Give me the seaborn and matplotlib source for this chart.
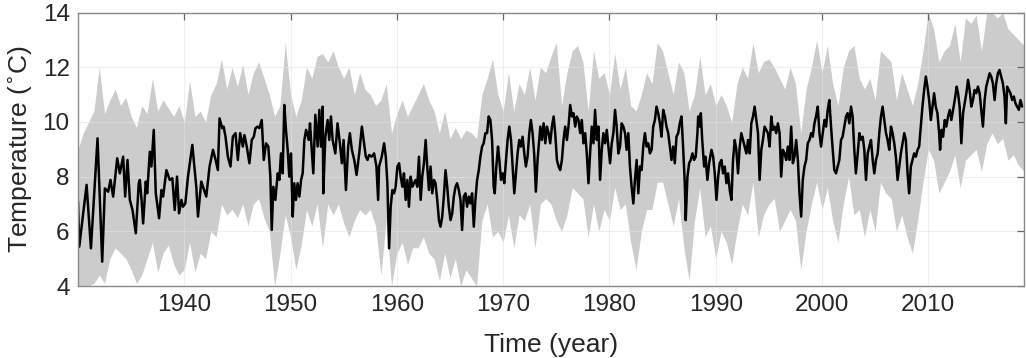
import numpy as np
import pandas as pd
import matplotlib
matplotlib.use("Agg")
import matplotlib.pyplot as plt
import seaborn as sns

# ---- black line: temperature readings (decimal year, deg C) ----
line_year = [
    1930.00, 1930.12, 1930.81, 1931.22, 1931.84, 1932.28, 1932.53, 1932.84, 1933.06, 1933.31,
    1933.69, 1933.94, 1934.25, 1934.44, 1934.66, 1934.88, 1935.13, 1935.44, 1935.72,
    1935.82, 1935.98, 1936.13, 1936.38, 1936.51, 1936.76, 1936.91, 1937.13, 1937.32, 1937.63,
    1937.85, 1938.01, 1938.32, 1938.63, 1938.88, 1939.10, 1939.32, 1939.51, 1939.73, 1939.88,
    1940.10, 1940.35, 1940.76, 1941.13, 1941.29, 1941.60, 1941.91, 1942.07, 1942.38, 1942.70,
    1942.95, 1943.16,
    1943.32, 1943.57, 1943.70, 1943.88, 1944.10, 1944.35, 1944.57, 1944.82, 1945.04, 1945.26,
    1945.51, 1945.66, 1945.88, 1946.13, 1946.35, 1946.54, 1946.70, 1946.91, 1947.07, 1947.29,
    1947.48, 1947.70, 1947.91, 1948.10, 1948.23, 1948.38, 1948.57, 1948.79, 1948.95, 1949.10,
    1949.26, 1949.41, 1949.57, 1949.73, 1949.88, 1950.04, 1950.20, 1950.35, 1950.51, 1950.66,
    1950.83, 1950.99, 1951.14, 1951.30, 1951.46, 1951.71, 1951.83, 1952.02, 1952.14, 1952.33,
    1952.55, 1952.71, 1952.86, 1953.02, 1953.08, 1953.27, 1953.49, 1953.64, 1953.80, 1953.96,
    1954.21, 1954.42, 1954.64, 1954.83, 1954.99, 1955.21, 1955.42, 1955.58, 1955.77, 1955.99,
    1956.21, 1956.46, 1956.71, 1956.92, 1957.08, 1957.24, 1957.39, 1957.64, 1957.86, 1958.08,
    1958.24,
    1958.33, 1958.58, 1958.80, 1958.96, 1959.11, 1959.27, 1959.42, 1959.58, 1959.74, 1959.89,
    1960.05, 1960.21, 1960.36, 1960.52, 1960.67, 1960.83, 1960.99, 1961.14, 1961.30, 1961.46,
    1961.61, 1961.77, 1961.92, 1962.08, 1962.24, 1962.39, 1962.55, 1962.71, 1962.86, 1963.02,
    1963.17, 1963.33, 1963.49, 1963.64, 1963.80, 1963.96, 1964.11, 1964.27, 1964.42, 1964.58,
    1964.74, 1964.89, 1965.05, 1965.21, 1965.36, 1965.52, 1965.67,
    1965.83, 1965.99, 1966.14, 1966.30, 1966.46, 1966.61, 1966.77, 1966.92, 1967.08, 1967.24,
    1967.39, 1967.55, 1967.71, 1967.86, 1968.02, 1968.17, 1968.33, 1968.49, 1968.64, 1968.80,
    1968.96, 1969.11, 1969.21, 1969.36, 1969.52, 1969.64, 1969.80, 1969.96, 1970.11, 1970.27,
    1970.42, 1970.58, 1970.74, 1970.89, 1971.05, 1971.21, 1971.36, 1971.52, 1971.67, 1971.83,
    1971.99, 1972.14, 1972.30, 1972.46, 1972.61, 1972.77, 1972.92, 1973.08, 1973.24,
    1973.34, 1973.50, 1973.65, 1973.81, 1973.97, 1974.12, 1974.28, 1974.43, 1974.59, 1974.75,
    1974.90, 1975.06, 1975.22, 1975.37, 1975.53, 1975.68, 1975.84, 1976.00, 1976.15, 1976.31,
    1976.47, 1976.62, 1976.78, 1976.93, 1977.09, 1977.25, 1977.40, 1977.56, 1977.72, 1977.87,
    1978.03, 1978.18, 1978.34, 1978.50, 1978.65, 1978.81, 1978.97, 1979.12, 1979.28, 1979.43,
    1979.59, 1979.75, 1979.90, 1980.06, 1980.22, 1980.37, 1980.53, 1980.68,
    1980.84, 1981.00, 1981.15, 1981.31, 1981.47, 1981.62, 1981.78, 1981.93, 1982.09, 1982.25,
    1982.40, 1982.56, 1982.72, 1982.87, 1983.03, 1983.18, 1983.34, 1983.50, 1983.65, 1983.81,
    1983.97, 1984.12, 1984.28, 1984.43, 1984.59, 1984.75, 1984.90, 1985.06, 1985.22, 1985.37,
    1985.53, 1985.68, 1985.84, 1986.00, 1986.15, 1986.31, 1986.47, 1986.62, 1986.78, 1986.93,
    1987.09, 1987.18, 1987.34, 1987.50, 1987.65, 1987.81, 1987.97, 1988.12, 1988.28,
    1988.35, 1988.51, 1988.60, 1988.73, 1988.91, 1989.04, 1989.22, 1989.38, 1989.60, 1989.76,
    1989.91, 1990.07, 1990.23, 1990.38, 1990.54, 1990.69, 1990.85, 1991.01, 1991.16, 1991.32,
    1991.48, 1991.63, 1991.79, 1991.94, 1992.10, 1992.26, 1992.41, 1992.57, 1992.73, 1992.88,
    1993.04, 1993.20, 1993.35, 1993.51, 1993.66, 1993.82, 1993.98, 1994.13, 1994.29, 1994.44,
    1994.60, 1994.76, 1994.91, 1995.07, 1995.23, 1995.38, 1995.54, 1995.69,
    1995.85, 1996.01, 1996.16, 1996.32, 1996.48, 1996.63, 1996.79, 1996.94, 1997.10, 1997.26,
    1997.41, 1997.57, 1997.73, 1997.88, 1998.04, 1998.19, 1998.35, 1998.51, 1998.66, 1998.82,
    1998.98, 1999.13, 1999.29, 1999.44, 1999.60, 1999.76, 1999.91, 2000.07, 2000.23, 2000.38,
    2000.54, 2000.69, 2000.85, 2001.01, 2001.16, 2001.32, 2001.48, 2001.63, 2001.79, 2001.94,
    2002.10, 2002.26, 2002.41, 2002.57, 2002.73, 2002.88, 2003.04, 2003.19,
    2003.36, 2003.52, 2003.67, 2003.83, 2003.98, 2004.14, 2004.30, 2004.45, 2004.61, 2004.77,
    2004.92, 2005.08, 2005.24, 2005.39, 2005.55, 2005.70, 2005.86, 2006.02, 2006.17, 2006.33,
    2006.49, 2006.64, 2006.80, 2006.95, 2007.11, 2007.27, 2007.42, 2007.58, 2007.74, 2007.89,
    2008.05, 2008.20, 2008.36, 2008.52, 2008.67, 2008.83, 2008.99, 2009.14, 2009.30, 2009.45,
    2009.61, 2009.77, 2009.92, 2010.08, 2010.24, 2010.39, 2010.55, 2010.70,
    2010.86, 2011.02, 2011.11, 2011.24, 2011.39, 2011.55, 2011.70, 2011.86, 2012.02, 2012.17,
    2012.33, 2012.49, 2012.67, 2012.80, 2012.95, 2013.11, 2013.27, 2013.42, 2013.58, 2013.74,
    2013.89, 2014.05, 2014.20, 2014.36, 2014.52, 2014.67, 2014.83, 2014.99, 2015.14, 2015.30,
    2015.45, 2015.61, 2015.77, 2015.92, 2016.08, 2016.24, 2016.39, 2016.55, 2016.70, 2016.86,
    2017.02, 2017.17, 2017.30, 2017.42, 2017.58, 2017.73, 2017.89, 2018.05, 2018.20, 2018.36,
    2018.52, 2018.67, 2018.83,
]
line_temp = [
    7.09, 5.44, 7.70, 5.38, 9.40, 4.89, 7.57, 7.45, 7.88, 7.27,
    8.67, 8.12, 8.73, 7.27, 8.61, 7.15, 6.78, 5.93, 7.76,
    7.88, 7.15, 6.29, 7.82, 7.39, 8.91, 8.37, 9.71, 7.39, 6.48,
    7.51, 7.27, 8.24, 7.88, 7.94, 6.78, 8.00, 6.66, 7.15, 6.90,
    7.02, 8.00, 9.16, 7.63, 6.54, 7.82, 7.45, 7.27, 8.37, 8.98,
    8.61, 8.24,
    10.13, 9.77, 9.83, 9.46, 8.73, 8.37, 9.46, 9.59, 8.61, 9.59,
    9.10, 9.52, 9.10, 8.49, 9.34, 9.46, 9.77, 9.83, 9.77, 10.07,
    8.61, 9.22, 9.10, 8.00, 6.05, 7.63, 7.15, 8.12, 7.88, 8.85,
    8.12, 10.62, 9.71, 8.98, 8.00, 8.85, 6.54, 7.76, 7.15, 7.76,
    7.27, 7.88, 8.12, 9.34, 9.71, 9.34, 9.95, 8.85, 8.12, 10.26,
    9.10, 10.44, 9.10, 10.56, 7.39, 9.46, 10.07, 9.34, 10.20, 9.34,
    8.85, 9.95, 9.22, 8.49, 9.34, 7.51, 9.10, 9.59, 8.98, 8.61,
    8.06, 8.85, 9.83, 9.22, 8.73, 8.61, 8.79, 8.73, 8.85, 8.37,
    7.15,
    8.37, 8.73, 9.22, 8.73, 7.76, 5.38, 6.90, 7.51, 7.39, 7.63,
    8.37, 8.49, 8.00, 7.63, 8.12, 7.15, 7.88, 6.90, 8.00, 7.63,
    7.76, 7.88, 7.63, 8.73, 7.15, 8.00, 8.49, 9.34, 8.37, 7.51,
    8.37, 7.39, 7.88, 7.76, 7.15, 6.41, 6.17, 6.54, 7.27, 8.24,
    7.63, 6.90, 6.41, 6.66, 7.27, 7.63, 7.76,
    7.51, 7.15, 6.05, 7.27, 7.39, 6.90, 7.27, 7.02, 7.39, 6.17,
    7.15, 7.88, 8.24, 8.73, 9.10, 9.22, 9.59, 9.59, 10.20, 10.07,
    9.34, 7.63, 7.39, 8.37, 9.10, 8.61, 7.88, 8.12, 7.76, 8.61,
    9.34, 9.83, 9.34, 8.37, 7.39, 8.12, 8.85, 9.34, 9.10, 9.46,
    8.85, 8.37, 8.73, 9.59, 10.07, 9.59, 8.85, 7.45, 8.61,
    9.10, 9.83, 9.34, 9.95, 9.22, 9.83, 9.59, 9.22, 9.83, 10.20,
    9.59, 8.61, 8.37, 8.24, 8.61, 9.34, 9.83, 9.34, 9.83, 10.62,
    10.20, 10.32, 9.83, 10.20, 10.07, 9.59, 10.07, 9.22, 9.59, 8.85,
    7.76, 8.85, 9.83, 9.22, 10.44, 9.34, 9.83, 7.88, 8.98, 9.59,
    9.22, 9.71, 9.10, 8.49, 9.22, 9.59, 10.44, 9.83,
    8.85, 9.10, 9.95, 9.83, 9.59, 8.98, 9.59, 8.37, 7.63, 7.02,
    7.88, 8.61, 7.39, 8.37, 8.24, 9.10, 9.59, 9.10, 9.22, 8.85,
    8.98, 9.83, 10.07, 10.56, 10.32, 9.95, 9.46, 10.44, 10.20, 9.83,
    9.59, 9.10, 8.61, 9.10, 8.49, 9.46, 9.59, 9.95, 10.20, 9.10,
    7.76, 6.41, 8.00, 8.49, 8.61, 8.85, 8.61, 8.73, 9.59,
    10.20, 9.83, 10.32, 9.34, 8.37, 8.73, 7.88, 8.49, 8.98, 8.73,
    8.12, 7.15, 8.00, 8.49, 8.61, 8.12, 8.37, 7.76, 8.12, 7.51,
    7.15, 8.61, 9.34, 8.98, 8.12, 9.10, 9.59, 9.34, 9.10, 8.85,
    9.34, 8.85, 9.95, 10.20, 10.56, 10.07, 9.59, 7.88, 8.98, 9.34,
    9.83, 9.71, 9.59, 9.10, 10.20, 9.71, 9.83, 9.59,
    9.95, 9.59, 8.00, 8.98, 8.85, 8.61, 9.10, 8.61, 9.83, 8.49,
    8.73, 9.34, 8.61, 7.39, 6.54, 7.88, 8.37, 8.61, 9.22, 9.34,
    9.59, 9.46, 9.95, 10.20, 10.56, 9.59, 9.10, 9.59, 10.07, 9.83,
    10.44, 10.80, 9.83, 8.98, 8.24, 8.12, 8.37, 8.61, 9.34, 9.46,
    9.83, 10.20, 10.32, 9.95, 10.56, 10.20, 8.98, 8.12,
    8.85, 9.59, 9.34, 9.46, 8.98, 7.88, 8.85, 9.10, 9.34, 8.61,
    8.12, 8.61, 8.85, 9.59, 10.20, 10.56, 10.07, 9.59, 9.34, 8.98,
    9.83, 9.59, 9.22, 8.73, 7.88, 8.37, 8.85, 9.22, 9.59, 9.34,
    8.12, 7.39, 8.37, 8.61, 8.85, 8.73, 8.98, 9.10, 9.83, 10.56,
    11.17, 11.66, 11.29, 10.80, 10.07, 10.56, 11.05, 10.56,
    10.32, 9.59, 8.98, 9.71, 9.46, 10.07, 9.83, 10.20, 10.44, 10.07,
    10.44, 10.80, 11.29, 11.05, 10.56, 9.22, 10.32, 10.68, 11.05, 11.54,
    11.17, 10.56, 10.80, 11.17, 11.05, 11.29, 11.05, 10.44, 9.83, 10.80,
    11.29, 11.54, 11.78, 11.66, 11.41, 10.80, 11.41, 11.78, 11.90, 11.66,
    11.41, 10.93, 9.95, 11.29, 11.17, 11.05, 10.80, 10.93, 10.68, 10.56,
    10.44, 10.80, 10.56,
]

# ---- grey band: envelope, half-year readings 1930.0 .. 2019.0 ----
band_upper = [
    9.0, 9.6, 10.0, 10.4, 12.0, 10.3, 10.8, 11.2, 10.6, 10.9,   # 1930-1934.5
    10.2, 9.8, 10.6, 10.3, 11.6, 10.4, 10.8, 10.5, 10.2, 10.6,  # 1935-1939.5
    10.0, 11.5, 10.2, 10.4, 10.0, 11.0, 11.4, 12.3, 11.2, 12.0, # 1940-1944.5
    11.3, 12.1, 11.0, 11.8, 12.2, 11.6, 11.0, 10.2, 10.6, 12.9, # 1945-1949.5
    11.0, 10.2, 10.8, 12.0, 11.6, 12.4, 12.5, 12.2, 12.6, 12.0, # 1950-1954.5
    11.6, 12.0, 11.0, 11.8, 11.2, 11.0, 10.6, 10.8, 11.4, 9.6,  # 1955-1959.5
    10.3, 10.8, 10.2, 10.6, 11.0, 11.4, 10.8, 10.4, 9.6, 10.4,  # 1960-1964.5
    9.4, 9.8, 9.4, 9.7, 9.6, 9.4, 11.0, 11.6, 12.3, 11.0,       # 1965-1969.5
    10.4, 11.8, 10.4, 11.4, 11.0, 12.0, 10.8, 12.0, 11.8, 12.4, # 1970-1974.5
    12.9, 10.6, 11.8, 12.6, 12.8, 12.2, 10.4, 12.6, 11.6, 11.8, # 1975-1979.5
    11.0, 12.5, 11.2, 12.0, 10.6, 10.4, 11.0, 11.8, 11.4, 12.9, # 1980-1984.5
    12.6, 11.8, 11.0, 12.2, 11.8, 10.4, 11.0, 12.4, 11.0, 11.4, # 1985-1989.5
    10.6, 11.0, 10.6, 10.0, 11.4, 12.0, 11.6, 12.9, 11.8, 12.2, # 1990-1994.5
    12.3, 12.0, 11.6, 11.2, 12.0, 11.4, 9.6, 11.2, 12.0, 13.0,  # 1995-1999.5
    11.8, 12.8, 11.4, 10.6, 12.0, 12.6, 12.8, 11.6, 11.2, 11.6, # 2000-2004.5
    10.8, 12.6, 12.4, 12.2, 10.8, 11.8, 11.2, 10.6, 11.4, 12.6, # 2005-2009.5
    14.0, 13.4, 12.2, 12.6, 12.8, 13.6, 12.2, 13.8, 13.6, 13.9, # 2010-2014.5
    12.6, 14.0, 14.0, 13.8, 14.0, 13.4, 13.2, 13.0, 12.8,       # 2015-2019.0
]
band_lower = [
    4.0, 4.0, 4.0, 4.1, 4.4, 4.1, 5.0, 5.4, 5.2, 5.0,
    4.6, 4.1, 4.4, 5.0, 5.6, 4.5, 5.2, 5.5, 4.8, 4.4,
    4.6, 5.6, 4.5, 5.2, 5.0, 6.0, 5.8, 7.0, 6.6, 6.8,
    6.5, 7.0, 6.2, 7.0, 7.2, 6.5, 6.0, 4.0, 5.2, 6.6,
    5.8, 4.6, 5.5, 6.8, 6.2, 7.0, 5.4, 7.0, 6.6, 7.0,
    6.3, 5.8, 6.4, 6.8, 6.6, 6.8, 6.2, 4.4, 6.4, 4.0,
    5.2, 5.6, 4.8, 5.4, 5.4, 5.8, 5.2, 5.0, 4.2, 5.2,
    4.3, 5.0, 4.0, 4.6, 4.3, 4.0, 6.4, 7.0, 5.8, 6.0,
    5.6, 6.6, 5.4, 6.6, 6.4, 7.0, 5.4, 7.0, 7.2, 7.0,
    6.4, 6.0, 6.6, 7.6, 7.4, 7.2, 5.8, 7.0, 6.0, 6.8,
    6.4, 7.6, 6.8, 7.0, 5.6, 4.6, 6.0, 6.8, 6.8, 7.8,
    7.8, 7.0, 6.2, 7.2, 5.4, 4.2, 6.4, 7.6, 5.8, 6.2,
    5.0, 6.0, 5.6, 4.8, 6.0, 7.0, 6.6, 7.8, 5.8, 6.6,
    7.0, 7.2, 6.0, 6.4, 6.8, 6.4, 4.6, 6.0, 7.0, 7.8,
    6.8, 7.6, 6.4, 5.6, 7.0, 8.0, 6.6, 6.8, 5.8, 6.8,
    6.0, 7.8, 7.4, 7.2, 6.0, 6.6, 5.8, 5.2, 6.4, 7.8,
    9.0, 8.6, 7.4, 7.8, 8.2, 8.8, 7.6, 8.6, 8.8, 9.0,
    8.2, 9.2, 9.6, 9.2, 9.4, 8.6, 8.8, 8.4, 8.2,
]
band_start, band_step = 1930.0, 0.5

x_ticks = [1940, 1950, 1960, 1970, 1980, 1990, 2000, 2010]
y_ticks = [4, 6, 8, 10, 12, 14]

# ---------------------------------------------------------------
band_year = band_start + band_step * np.arange(len(band_upper))
line_df = pd.DataFrame({"year": line_year, "temp": line_temp})

sns.set_style("white")
plt.rcParams["font.family"] = ["Liberation Sans", "DejaVu Sans"]

fig = plt.figure(figsize=(10.26, 3.58), dpi=100)
ax = fig.add_axes([0.076, 0.201, 0.922, 0.764])

ax.fill_between(band_year, band_lower, band_upper, color="#cccccc",
                linewidth=0, zorder=1)
sns.lineplot(data=line_df, x="year", y="temp", ax=ax, color="black",
             linewidth=1.8, estimator=None, sort=False, zorder=3)

ax.set_xlim(1930, 2019)
ax.set_ylim(4, 14)
ax.set_xticks(x_ticks)
ax.set_yticks(y_ticks)
ax.grid(True, color="#e3e3e3", linewidth=0.8, zorder=0)
ax.set_axisbelow(False)
for line in ax.get_xgridlines() + ax.get_ygridlines():
    line.set_zorder(2)
    line.set_alpha(0.55)

for s in ax.spines.values():
    s.set_visible(True)
    s.set_color("#8a8a8a")
    s.set_linewidth(1.0)
    s.set_zorder(5)

ax.tick_params(axis="both", direction="in", length=5, width=0.9,
               colors="#666666", labelcolor="#262626", labelsize=17.5,
               top=True, right=True, pad=6)
ax.set_xlabel("Time (year)", fontsize=19, color="#262626", labelpad=12)
ax.set_ylabel("Temperature ($^{\\circ}$C)", fontsize=19, color="#262626", labelpad=6)

fig.savefig("out.png", dpi=100)
